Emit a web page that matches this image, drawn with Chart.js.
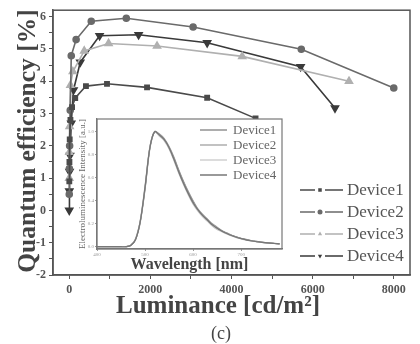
<!DOCTYPE html>
<html>
<head>
<meta charset="utf-8">
<script src="https://cdn.jsdelivr.net/npm/chart.js@4.4.1/dist/chart.umd.min.js"></script>
<style>
  html, body { margin: 0; padding: 0; background: #fff; }
  #wrap { position: relative; width: 420px; height: 344px; }
  #main { position: absolute; left: 0; top: 0; }
  #inset { position: absolute; left: 74px; top: 112px; }
</style>
</head>
<body>
<div id="wrap">
  <canvas id="main" width="420" height="344"></canvas>
  <canvas id="inset" width="212" height="162"></canvas>
</div>
<script>
/* --- main plot data: luminance [cd/m2] vs quantum efficiency [%] --- */
var deviceNames = ['Device1', 'Device2', 'Device3', 'Device4'];

var lum1 = [2, 5, 12, 30, 70, 148, 412, 931, 1918, 3400, 4593];
var eqe1 = [0.9, 1.5, 2.2, 2.8, 3.2, 3.48, 3.85, 3.92, 3.81, 3.49, 2.85];

var lum2 = [1, 4, 10, 25, 50, 170, 543, 1407, 3054, 5721, 8000];
var eqe2 = [0.5, 1.3, 2.0, 3.1, 4.79, 5.29, 5.86, 5.95, 5.68, 4.99, 3.79];

var lum3 = [1, 3, 10, 30, 90, 370, 970, 2165, 4264, 6896];
var eqe3 = [1.0, 1.8, 2.6, 3.88, 4.3, 4.94, 5.17, 5.09, 4.77, 4.0];

var lum4 = [1, 3, 8, 20, 50, 106, 272, 748, 1711, 3400, 5704, 6551];
var eqe4 = [0.0, 0.6, 1.2, 1.7, 2.7, 3.73, 4.59, 5.41, 5.44, 5.19, 4.45, 3.17];

var xMajor = [0, 2000, 4000, 6000, 8000];
var yMajor = [-2, -1, 0, 1, 2, 3, 4, 5, 6];

/* --- inset data: EL spectra --- */
var wavelength = [400, 410, 420, 430, 440, 450, 460, 470, 480, 490, 500, 510, 520, 530, 540, 550,
  560, 570, 580, 590, 600, 610, 620, 630, 640, 650, 660, 670, 680, 690, 700, 710, 720, 730, 740,
  750, 760, 770, 780];
var spec1 = [0, 0, 0, 0, 0, 0, 0, 0.01, 0.06, 0.22, 0.52, 0.86, 1.0, 0.97, 0.93, 0.86,
  0.76, 0.65, 0.55, 0.46, 0.38, 0.32, 0.27, 0.23, 0.19, 0.16, 0.135, 0.115, 0.097, 0.082, 0.07,
  0.06, 0.052, 0.045, 0.04, 0.035, 0.031, 0.028, 0.025];
var spec2 = [0, 0, 0, 0, 0, 0, 0, 0.01, 0.06, 0.21, 0.5, 0.85, 1.0, 0.98, 0.94, 0.87,
  0.78, 0.67, 0.57, 0.48, 0.4, 0.33, 0.28, 0.24, 0.2, 0.17, 0.14, 0.12, 0.1, 0.085, 0.073,
  0.063, 0.054, 0.047, 0.041, 0.036, 0.032, 0.029, 0.026];
var spec3 = [0, 0, 0, 0, 0, 0, 0, 0.01, 0.07, 0.23, 0.53, 0.87, 1.0, 0.96, 0.92, 0.85,
  0.75, 0.64, 0.54, 0.45, 0.37, 0.31, 0.26, 0.22, 0.18, 0.15, 0.13, 0.11, 0.093, 0.079, 0.068,
  0.058, 0.05, 0.044, 0.039, 0.034, 0.03, 0.027, 0.024];
var spec4 = [0, 0, 0, 0, 0, 0, 0, 0.01, 0.06, 0.22, 0.51, 0.86, 1.0, 0.97, 0.93, 0.86,
  0.77, 0.66, 0.56, 0.47, 0.39, 0.32, 0.27, 0.23, 0.19, 0.16, 0.137, 0.117, 0.099, 0.084, 0.071,
  0.061, 0.053, 0.046, 0.04, 0.035, 0.031, 0.028, 0.025];
var insetYTicks = [0, 0.2, 0.4, 0.6, 0.8, 1.0];
var insetXTicks = [400, 500, 600, 700];

var serif = '"Liberation Serif", "DejaVu Serif", serif';
var axisGray = '#555';
var lineColors = ['#4a4a4a', '#6a6a6a', '#b0b0b0', '#3a3a3a'];
var markers = ['rect', 'circle', 'triangle', 'triangle'];

function pairs(xs, ys) {
  var out = [];
  for (var i = 0; i < xs.length; i++) out.push({ x: xs[i], y: ys[i] });
  return out;
}

var lums = [lum1, lum2, lum3, lum4];
var eqes = [eqe1, eqe2, eqe3, eqe4];
var mainSets = [];
for (var i = 0; i < 4; i++) {
  mainSets.push({
    label: deviceNames[i],
    data: pairs(lums[i], eqes[i]),
    borderColor: lineColors[i],
    backgroundColor: lineColors[i],
    borderWidth: 1.6,
    pointStyle: markers[i],
    pointRotation: i === 3 ? 180 : 0,
    pointRadius: i < 2 ? 3 : 4,
    tension: 0
  });
}

/* frame, axis titles, caption and custom legend for main plot */
var mainDecor = {
  id: 'mainDecor',
  afterDraw: function(chart) {
    var ctx = chart.ctx, a = chart.chartArea;
    ctx.save();
    ctx.strokeStyle = axisGray;
    ctx.lineWidth = 1.5;
    ctx.strokeRect(a.left, a.top, a.right - a.left, a.bottom - a.top);

    // axis titles
    ctx.fillStyle = '#444';
    ctx.textAlign = 'center';
    ctx.textBaseline = 'alphabetic';
    ctx.font = 'bold 25px ' + serif;
    ctx.fillText('Luminance [cd/m\u00b2]', 218, 313);
    ctx.font = '18px ' + serif;
    ctx.fillText('(c)', 221, 339);
    ctx.save();
    ctx.translate(35, 141);
    ctx.rotate(-Math.PI / 2);
    ctx.font = 'bold 25.5px ' + serif;
    ctx.fillText('Quantum efficiency [%]', 0, 0);
    ctx.restore();

    // legend
    var ys = [190, 212, 234, 256];
    ctx.font = '17px ' + serif;
    ctx.textAlign = 'left';
    ctx.textBaseline = 'middle';
    for (var i = 0; i < 4; i++) {
      var c = lineColors[i];
      ctx.strokeStyle = c;
      ctx.lineWidth = 1.5;
      ctx.beginPath();
      ctx.moveTo(300, ys[i]); ctx.lineTo(315, ys[i]);
      ctx.moveTo(325, ys[i]); ctx.lineTo(343, ys[i]);
      ctx.stroke();
      ctx.fillStyle = c;
      Chart.helpers.drawPoint(ctx, { pointStyle: markers[i], rotation: i === 3 ? 180 : 0, radius: 2.5, borderWidth: 0 }, 320, ys[i]);
      ctx.fillStyle = '#555';
      ctx.fillText(deviceNames[i], 347, ys[i] + 1);
    }
    ctx.restore();
  }
};

new Chart(document.getElementById('main'), {
  type: 'line',
  data: { datasets: mainSets },
  options: {
    responsive: false,
    animation: false,
    layout: { padding: { top: 3, right: 10, left: 0, bottom: 0 } },
    plugins: { legend: { display: false }, tooltip: { enabled: false } },
    scales: {
      x: {
        type: 'linear',
        min: -400,
        max: 8400,
        afterFit: function(s) { s.height = 69; },
        afterBuildTicks: function(s) {
          var t = [];
          for (var v = 0; v <= 8000; v += 1000) t.push({ value: v });
          s.ticks = t;
        },
        ticks: {
          color: '#555',
          font: { family: serif, size: 12, weight: 'bold' },
          padding: 4,
          maxRotation: 0,
          autoSkip: false,
          callback: function(v) { return xMajor.indexOf(v) >= 0 ? String(v) : ''; }
        },
        grid: { display: true, drawOnChartArea: false, tickLength: 4, color: axisGray },
        border: { color: axisGray, width: 1.5 }
      },
      y: {
        type: 'linear',
        min: -2,
        max: 6.2,
        afterFit: function(s) { s.width = 53; },
        afterBuildTicks: function(s) {
          var t = [];
          for (var v = -2; v <= 6; v += 0.5) t.push({ value: v });
          s.ticks = t;
        },
        ticks: {
          color: '#555',
          font: { family: serif, size: 12, weight: 'bold' },
          padding: 3,
          autoSkip: false,
          callback: function(v) { return yMajor.indexOf(v) >= 0 ? String(v) : ''; }
        },
        grid: { display: true, drawOnChartArea: false, tickLength: 4, color: axisGray },
        border: { color: axisGray, width: 1.5 }
      }
    }
  },
  plugins: [mainDecor]
});

/* --- inset --- */
var specs = [spec1, spec2, spec3, spec4];
var specColors = ['#777', '#999', '#c4c4c4', '#555'];
var insetSets = [];
for (var j = 0; j < 4; j++) {
  insetSets.push({
    label: deviceNames[j],
    data: pairs(wavelength, specs[j]),
    borderColor: specColors[j],
    borderWidth: 1.2,
    pointRadius: 0,
    tension: 0.3
  });
}

var insetDecor = {
  id: 'insetDecor',
  beforeDraw: function(chart) {
    var ctx = chart.ctx, a = chart.chartArea;
    ctx.save();
    ctx.fillStyle = '#fff';
    ctx.fillRect(a.left, a.top, a.right - a.left, a.bottom - a.top);
    ctx.restore();
  },
  afterDraw: function(chart) {
    var ctx = chart.ctx, a = chart.chartArea;
    ctx.save();
    ctx.strokeStyle = '#777';
    ctx.lineWidth = 1.2;
    ctx.strokeRect(a.left, a.top, a.right - a.left, a.bottom - a.top);
    ctx.font = '13px ' + serif;
    ctx.textBaseline = 'middle';
    for (var i = 0; i < 4; i++) {
      var y = 18 + i * 15;
      ctx.strokeStyle = specColors[i];
      ctx.lineWidth = 1.2;
      ctx.beginPath();
      ctx.moveTo(126, y); ctx.lineTo(153, y);
      ctx.stroke();
      ctx.fillStyle = '#666';
      ctx.fillText(deviceNames[i], 159, y + 1);
    }
    ctx.restore();
  }
};

new Chart(document.getElementById('inset'), {
  type: 'line',
  data: { datasets: insetSets },
  options: {
    responsive: false,
    animation: false,
    layout: { padding: { top: 7, right: 4, left: 0, bottom: 0 } },
    plugins: { legend: { display: false }, tooltip: { enabled: false } },
    scales: {
      x: {
        type: 'linear',
        min: 400,
        max: 785,
        afterFit: function(s) { s.height = 25; },
        afterBuildTicks: function(s) {
          s.ticks = insetXTicks.map(function(v) { return { value: v }; });
        },
        ticks: { color: '#999', font: { family: serif, size: 5 }, padding: 1, maxRotation: 0 },
        grid: { display: true, drawOnChartArea: false, tickLength: 2, color: '#999' },
        border: { color: '#777', width: 1.2 },
        title: {
          display: true,
          text: 'Wavelength [nm]',
          color: '#444',
          font: { family: serif, size: 16, weight: 'bold' },
          padding: { top: 0, bottom: 0 }
        }
      },
      y: {
        type: 'linear',
        min: -0.02,
        max: 1.11,
        afterFit: function(s) { s.width = 23; },
        afterBuildTicks: function(s) {
          s.ticks = insetYTicks.map(function(v) { return { value: v }; });
        },
        ticks: {
          color: '#999',
          font: { family: serif, size: 5 },
          padding: 1,
          callback: function(v) { return v.toFixed(1); }
        },
        grid: { display: true, drawOnChartArea: false, tickLength: 2, color: '#999' },
        border: { color: '#777', width: 1.2 },
        title: {
          display: true,
          text: 'Electroluminescence Intensity [a.u.]',
          color: '#666',
          font: { family: serif, size: 9 },
          padding: { top: 3, bottom: 0 }
        }
      }
    }
  },
  plugins: [insetDecor]
});
</script>
</body>
</html>
